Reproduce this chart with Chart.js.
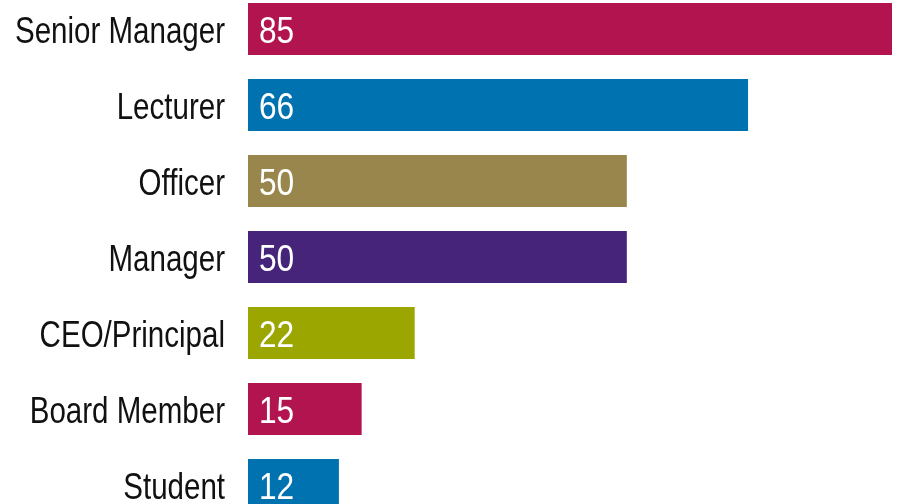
<!DOCTYPE html>
<html>
<head>
<meta charset="utf-8">
<script src="https://cdn.jsdelivr.net/npm/chart.js@4/dist/chart.umd.min.js"></script>
<style>
  html, body { margin: 0; padding: 0; background: #fff; overflow: hidden; width: 897px; height: 504px; }
  #wrap { position: absolute; left: 0; top: -9px; width: 897px; height: 532px; }
</style>
</head>
<body>
<div id="wrap"><canvas id="c"></canvas></div>
<script>
const categories = ["Senior Manager", "Lecturer", "Officer", "Manager", "CEO/Principal", "Board Member", "Student"];
const values = [85, 66, 50, 50, 22, 15, 12];
const barColors = ["#B1144F", "#0072B0", "#98864D", "#46247A", "#9BA600", "#B1144F", "#0072B0"];

const FONT = "'Liberation Sans', Arial, sans-serif";

// Draws category labels (condensed look) and value labels using the library's scale positions
const labelsPlugin = {
  id: 'labelsPlugin',
  afterDatasetsDraw(chart) {
    const ctx = chart.ctx;
    const yScale = chart.scales.y;
    const meta = chart.getDatasetMeta(0);
    ctx.save();
    ctx.font = "36px " + FONT;
    ctx.textBaseline = "alphabetic";
    // category labels, right aligned at 225px
    chart.data.labels.forEach((lab, i) => {
      const y = yScale.getPixelForValue(i);
      ctx.save();
      ctx.fillStyle = "#111111";
      ctx.translate(yScale.right - 23, y + 14);
      ctx.scale(0.82, 1);
      ctx.textAlign = "right";
      ctx.fillText(lab, 0, 0);
      ctx.restore();
    });
    // value labels inside bars
    meta.data.forEach((bar, i) => {
      ctx.save();
      ctx.fillStyle = "#ffffff";
      ctx.translate(bar.base + 11, bar.y + 14);
      ctx.scale(0.88, 1);
      ctx.textAlign = "left";
      ctx.fillText(String(values[i]), 0, 0);
      ctx.restore();
    });
    ctx.restore();
  }
};

new Chart(document.getElementById('c'), {
  type: 'bar',
  data: {
    labels: categories,
    datasets: [{
      data: values,
      backgroundColor: barColors,
      borderWidth: 0,
      barPercentage: 0.684,
      categoryPercentage: 1
    }]
  },
  options: {
    indexAxis: 'y',
    responsive: true,
    maintainAspectRatio: false,
    animation: false,
    layout: { padding: { left: 0, right: 5, top: 0, bottom: 0 } },
    plugins: { legend: { display: false }, tooltip: { enabled: false } },
    scales: {
      x: { display: false, min: 0, max: 85 },
      y: {
        grid: { display: false, drawTicks: false },
        border: { display: false },
        ticks: { display: false },
        afterFit(scale) {
          scale.width = 248;
          scale.paddingTop = 0;
          scale.paddingBottom = 0;
        }
      }
    }
  },
  plugins: [labelsPlugin]
});
</script>
</body>
</html>
